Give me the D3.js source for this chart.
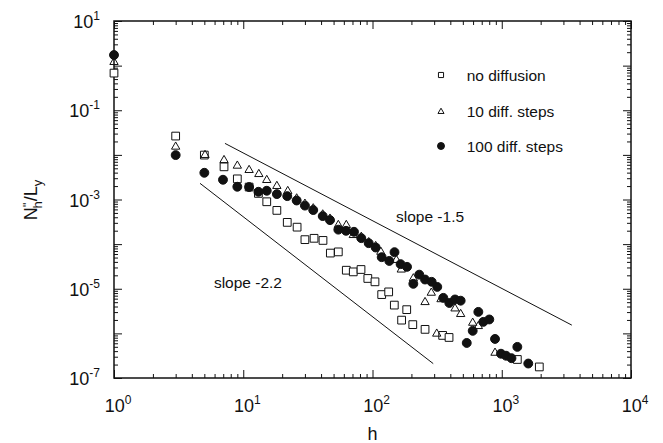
<!DOCTYPE html>
<html>
<head>
<meta charset="utf-8">
<script src="https://cdnjs.cloudflare.com/ajax/libs/d3/7.8.5/d3.min.js"></script>
<style>
  body { margin: 0; background: #fff; }
  text { font-family: "Liberation Sans", Arial, Helvetica, sans-serif; fill: #111; }
</style>
</head>
<body>
<div class="chart"></div>
<script>
'use strict';

// no diffusion (open squares)
const noDiffH = [1, 3, 5, 7.1, 9, 11.1, 13.1, 15.2, 18.2, 21.9, 26.1, 30, 35.3, 41.4, 47.2, 54.4, 62.7, 71, 81.5, 92,
                 104.5, 117.8, 133.4, 147.5, 168, 184, 205, 255, 349, 391, 1320, 1953];
const noDiffN = [0.68, 0.0264, 0.0099, 0.0054, 0.0029, 0.0019, 0.00137, 8.9e-4, 5.7e-4, 3.07e-4, 2.4e-4, 1.26e-4, 1.35e-4, 1.21e-4, 6.3e-5,
                 6.7e-5, 2.6e-5, 2.39e-5, 2.7e-5, 1.7e-5, 1.43e-5, 7.4e-6, 8.5e-6, 4.3e-6, 1.98e-6, 3.4e-6, 1.57e-6, 1.23e-6, 9e-7, 8.1e-7,
                 2.6e-7, 1.77e-7];

// 10 diff. steps (open triangles)
const tenH = [1, 3, 5.06, 7.1, 9, 11.1, 13.2, 15.2, 18.2, 22.1, 25.9, 30, 34.8, 41.2, 46.9, 54.4, 62.7, 71, 81.9, 93.5,
              105.8, 116, 153, 167, 207, 255, 285, 314, 339, 435, 481, 596, 659, 887];
const tenN = [1.2, 0.0152, 0.0099, 0.0076, 0.0057, 0.00456, 0.0037, 0.00272, 0.002, 0.00154, 1.05e-3, 8e-4, 6.3e-4, 4.6e-4, 3.7e-4,
              2.67e-4, 2.67e-4, 1.59e-4, 1.45e-4, 1.1e-4, 9e-5, 6.7e-5, 4.4e-5, 2.68e-5, 1.7e-5, 5e-6, 8.1e-6, 9.8e-7, 5.8e-6, 3.6e-6,
              2.7e-6, 1.72e-6, 1.45e-6, 3.66e-7];

// 100 diff. steps (filled circles)
const hundredH = [1, 3, 5, 6.97, 9, 11.1, 13.1, 15.2, 18.2, 21.9, 25.9, 30, 34.8, 41.2, 46.9, 54.4, 62.4, 71.9, 81.9, 93.5,
                  105.8, 117.8, 134.9, 148, 165, 185, 207, 230, 255, 287, 317, 353, 393, 435, 481, 536, 596, 659, 720, 801,
                  887, 986, 1079, 1189, 1320, 1604];
const hundredN = [1.73, 0.0099, 0.00397, 0.00277, 0.00193, 0.0019, 0.00149, 0.00157, 0.00132, 0.00119, 9.5e-4, 7.3e-4, 5.8e-4, 4.25e-4, 3.45e-4,
                  2.11e-4, 1.99e-4, 1.89e-4, 1.36e-4, 1.05e-4, 8.4e-5, 5.1e-5, 4.2e-5, 6.6e-5, 3.56e-5, 3.1e-5, 1.29e-5, 2.07e-5, 1.61e-5, 1.43e-5,
                  1.1e-5, 6.25e-6, 4.8e-6, 5.75e-6, 5.4e-6, 6.1e-7, 1.14e-6, 3.03e-6, 1.81e-6, 2.05e-6, 7.5e-7, 3.5e-7, 3.16e-7, 2.78e-7, 4.98e-7,
                  2.11e-7];

// guide lines
const slope15H = [7.22, 3485];
const slope15N = [0.0181, 1.53e-6];
const slope22H = [4.63, 295];
const slope22N = [0.0023, 2.1e-7];

const xTickExp = [0, 1, 2, 3, 4];
const yTickExp = [1, -1, -3, -5, -7];
const legendLabels = ["no diffusion", "10 diff. steps", "100 diff. steps"];

(function() {

    let svgContainer = "";
    const margin = {top: 21, right: 32, bottom: 65, left: 114},
          width = 663 - margin.left - margin.right,
          height = 443 - margin.top - margin.bottom;

    window.onload = function() {
        svgContainer = d3.select('.chart')
                        .append('svg').attr('width', 663).attr('height', 443)
                        .append('g').attr('transform', "translate(" + margin.left + "," + margin.top + ")");
        makeChart();
    }

    function makeChart() {
        let x = d3.scaleLog().domain([1, 1e4]).range([0, width]);
        let y = d3.scaleLog().domain([1e-7, 1e1]).range([height, 0]);

        let xMajor = d3.range(0, 5).map(e => Math.pow(10, e));
        let yMajor = d3.range(-7, 2).map(e => Math.pow(10, e));
        let xMinor = x.ticks().filter(v => xMajor.indexOf(v) < 0);
        let yMinor = y.ticks().filter(v => yMajor.every(m => Math.abs(m - v) / m > 1e-6));

        // ticks on all four sides, pointing inward
        function ticks(axisFn, scale, vals, size, tr) {
            let g = svgContainer.append("g").attr("transform", tr)
                .call(axisFn(scale).tickValues(vals).tickSizeInner(-size).tickSizeOuter(0).tickFormat(""));
            g.select(".domain").remove();
            g.selectAll("line").attr("stroke", "#111").attr("stroke-width", 1);
        }
        ticks(d3.axisBottom, x, xMajor, 8, "translate(0," + height + ")");
        ticks(d3.axisBottom, x, xMinor, 4, "translate(0," + height + ")");
        ticks(d3.axisTop, x, xMajor, 8, "translate(0,0)");
        ticks(d3.axisTop, x, xMinor, 4, "translate(0,0)");
        ticks(d3.axisLeft, y, yMajor, 8, "translate(0,0)");
        ticks(d3.axisLeft, y, yMinor, 4, "translate(0,0)");
        ticks(d3.axisRight, y, yMajor, 8, "translate(" + width + ",0)");
        ticks(d3.axisRight, y, yMinor, 4, "translate(" + width + ",0)");

        svgContainer.append("rect")
            .attr("width", width).attr("height", height)
            .attr("fill", "none").attr("stroke", "#111").attr("stroke-width", 1.5);

        // tick labels 10^n
        xTickExp.forEach(function(e) {
            let t = svgContainer.append("text")
                .attr("x", x(Math.pow(10, e)) + 4).attr("y", height + 34)
                .style("text-anchor", "middle").style("font-size", "18px");
            t.append("tspan").text("10");
            t.append("tspan").attr("dy", -8).style("font-size", "12px").text(e);
        });
        yTickExp.forEach(function(e) {
            let t = svgContainer.append("text")
                .attr("x", -14).attr("y", y(Math.pow(10, e)) + 7)
                .style("text-anchor", "end").style("font-size", "18px");
            t.append("tspan").text("10");
            t.append("tspan").attr("dy", -8).style("font-size", "12px").text(e);
        });

        // axis labels
        svgContainer.append("text")
            .attr("x", width / 2).attr("y", height + 62)
            .style("text-anchor", "middle").style("font-size", "18px")
            .text("h");

        let yl = svgContainer.append("text")
            .attr("transform", "translate(" + (-77) + "," + 179 + ") rotate(-90)")
            .style("text-anchor", "middle").style("font-size", "18px");
        yl.append("tspan").text("N");
        yl.append("tspan").attr("dy", -5).style("font-size", "13px").text("''");
        yl.append("tspan").attr("dy", 10).attr("dx", -6).style("font-size", "13px").text("h");
        yl.append("tspan").attr("dy", -5).text("/L");
        yl.append("tspan").attr("dy", 5).style("font-size", "13px").text("y");

        // guide lines
        let line = d3.line().x(d => x(d[0])).y(d => y(d[1]));
        [[slope15H, slope15N], [slope22H, slope22N]].forEach(function(s) {
            svgContainer.append("path")
                .datum(d3.zip(s[0], s[1]))
                .attr("d", line)
                .attr("fill", "none").attr("stroke", "#111").attr("stroke-width", 1);
        });
        svgContainer.append("text").attr("x", 282).attr("y", 201)
            .style("font-size", "15.5px").text("slope -1.5");
        svgContainer.append("text").attr("x", 168).attr("y", 267)
            .style("text-anchor", "end").style("font-size", "15.5px").text("slope -2.2");

        // markers
        let square = d3.symbol().type(d3.symbolSquare).size(60);
        let triangle = d3.symbol().type(d3.symbolTriangle).size(30);
        let circle = d3.symbol().type(d3.symbolCircle).size(62);

        function drawSeries(hs, ns, sym, fill) {
            svgContainer.append("g").selectAll("path")
                .data(d3.zip(hs, ns))
                .enter()
                .append("path")
                    .attr("transform", d => "translate(" + x(d[0]) + "," + y(d[1]) + ")")
                    .attr("d", sym)
                    .attr("fill", fill)
                    .attr("stroke", "#111")
                    .attr("stroke-width", 1);
        }
        drawSeries(noDiffH, noDiffN, square, "white");
        drawSeries(tenH, tenN, triangle, "none");
        drawSeries(hundredH, hundredN, circle, "#111");

        // legend
        let legendSyms = [
            d3.symbol().type(d3.symbolSquare).size(26),
            d3.symbol().type(d3.symbolTriangle).size(16),
            d3.symbol().type(d3.symbolCircle).size(38)
        ];
        let legendFill = ["white", "none", "#111"];
        let legendY = [54, 90.7, 125];
        legendLabels.forEach(function(lab, i) {
            svgContainer.append("path")
                .attr("transform", "translate(" + 327 + "," + legendY[i] + ")")
                .attr("d", legendSyms[i])
                .attr("fill", legendFill[i]).attr("stroke", "#111").attr("stroke-width", 1);
            svgContainer.append("text")
                .attr("x", 352.7).attr("y", legendY[i] + 5.5)
                .style("font-size", "15.5px").text(lab);
        });
    }
})();
</script>
</body>
</html>
